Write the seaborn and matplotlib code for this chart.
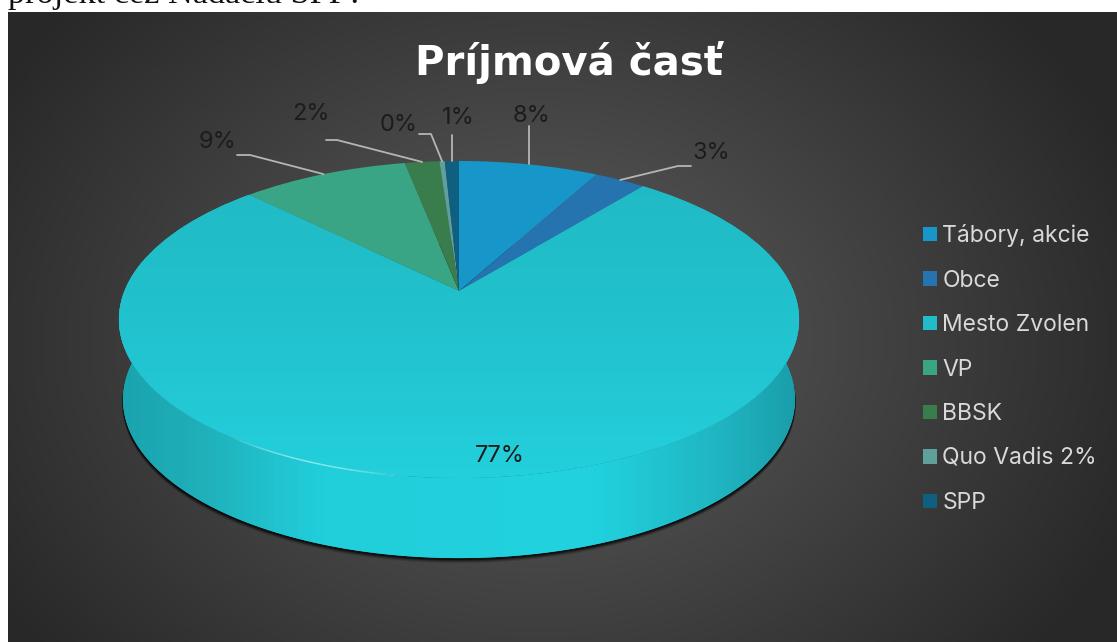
import numpy as np
import matplotlib
matplotlib.use("Agg")
import matplotlib.pyplot as plt
from matplotlib.colors import LinearSegmentedColormap
from matplotlib.patches import Polygon, Rectangle
from matplotlib.transforms import Transform
import seaborn as sns

# ---- data ----
categories = ["Tábory, akcie", "Obce", "Mesto Zvolen", "VP", "BBSK", "Quo Vadis 2%", "SPP"]
values = [7.9, 2.9, 76.7, 9.45, 1.95, 0.3, 0.8]
colors = ["#1797c9", "#2574b0", "#21bcc8", "#3aa585", "#3a7d4c", "#5f9f9c", "#0f5f80"]
title = "Príjmová časť"
page_text = "projekt cez Nadáciu SPP?"

# ---- layout (pixels) ----
W, H = 1117, 642
CX, CY, A, B, K = 459.0, 291.0, 334.5, 153.4, 0.18
DEPTH = 80
label_pos = [(531, 116), (711, 153), (500, 456), (217, 142), (311, 114), (399, 125), (458, 118)]
elbows = [None, [(678, 166), (691, 166)], None, [(250, 155), (237, 155)],
          [(337, 140), (326, 140)], [(431, 134), (419, 134)], None]
verticals = [126, None, None, None, None, None, 135]

sns.set_theme(style="dark")
plt.rcParams["font.family"] = ["Inter", "DejaVu Sans"]
palette = sns.color_palette(colors)


class Persp(Transform):
    input_dims = output_dims = 2
    is_separable = False
    has_inverse = False

    def __init__(self, dz=0.0, scale=1.0):
        super().__init__()
        self.dz, self.scale = dz, scale

    def transform_non_affine(self, xy):
        xy = np.asarray(xy, float)
        x, y = xy[:, 0], xy[:, 1]
        w = 1 + K * y
        return np.column_stack((CX + self.scale * A * x / w, CY + self.dz - B * y / w))


top = Persp()
base = Persp(DEPTH, 0.988)


def ring(tr, t):
    return tr.transform_non_affine(np.column_stack((np.cos(t), np.sin(t))))


fig = plt.figure(figsize=(W / 100, H / 100), dpi=100, facecolor="white")
ax = fig.add_axes([0, 0, 1, 1])

wedges, _ = ax.pie(values, colors=palette, startangle=90, counterclock=False,
                   wedgeprops=dict(linewidth=0))
ax.set_aspect("auto")
ax.set_xlim(0, W)
ax.set_ylim(H, 0)
ax.axis("off")

# page text peeking above the panel
ax.text(8, 2.5, page_text, family="Liberation Serif", fontsize=24.7, color="#111111",
        va="baseline", ha="left", zorder=0, clip_on=False)

# background panel with radial gradient
panel = Rectangle((8, 12), W - 8, H - 12, transform=ax.transData, fc="none", ec="none")
ax.add_patch(panel)
yy, xx = np.mgrid[0:H:2, 0:W:2]
rad = np.clip(np.hypot((xx - 540) / 640, (yy - 340) / 500), 0, 1)
bg_cmap = LinearSegmentedColormap.from_list("bg", ["#585858", "#4c4c4c", "#3a3a3a", "#282828"])
bg = ax.imshow(rad, extent=(0, W, H, 0), cmap=bg_cmap, vmin=0, vmax=1, aspect="auto", zorder=1)
bg.set_clip_path(panel)
ax.set_xlim(0, W)
ax.set_ylim(H, 0)

# soft shadow under the disc
t_all = np.linspace(0, 2 * np.pi, 361)
for off, al in zip((5, 4, 3, 2), (0.12, 0.2, 0.3, 0.5)):
    pts = Persp(DEPTH + off, 0.99).transform_non_affine(np.column_stack((np.cos(t_all), np.sin(t_all))))
    ax.add_patch(Polygon(pts, closed=True, fc="black", ec="none", alpha=al, zorder=2))

# side wall with horizontal gradient
t_front = np.linspace(np.pi - 0.2, 2 * np.pi + 0.2, 300)
wall_pts = np.vstack((ring(top, t_front), ring(base, t_front)[::-1]))
wall_poly = Polygon(wall_pts, closed=True, fc="#20c8d4", ec="none", zorder=3)
ax.add_patch(wall_poly)
gx = np.linspace(0, 1, 400)[None, :]
wall_cmap = LinearSegmentedColormap.from_list(
    "wall", [(0, "#1aa3af"), (0.12, "#1fb0ba"), (0.3, "#21cfdb"), (0.7, "#21d2de"),
             (0.88, "#1fb6c2"), (1, "#1a9daa")])
wall_im = ax.imshow(gx, extent=(118, 800, H, 0), cmap=wall_cmap, aspect="auto", zorder=3.1)
wall_im.set_clip_path(wall_poly)
ax.set_xlim(0, W)
ax.set_ylim(H, 0)

# top face
for w in wedges:
    w.set_transform(top + ax.transData)
    w.set_zorder(4)

# brighter front on the big slice
gy = np.linspace(0, 1, 200)[:, None]
face_cmap = LinearSegmentedColormap.from_list("face", ["#21b9c5", "#20bfca", "#22c6d2", "#23d0dc"])
face_im = ax.imshow(gy, extent=(100, 820, 480, 160), cmap=face_cmap, aspect="auto", zorder=4.1, origin="upper")
face_im.set_clip_path(wedges[2])
ax.set_xlim(0, W)
ax.set_ylim(H, 0)

# highlight along the rim, fading towards the left
t_hi = np.linspace(1.3 * np.pi, 1.46 * np.pi, 30)
rim = ring(top, t_hi)
for j in range(len(rim) - 1):
    ax.plot(rim[j:j + 2, 0], rim[j:j + 2, 1], color="#c4f8fb", lw=1.0,
            alpha=0.7 * np.sin(np.pi * (j + 0.5) / (len(rim) - 1)), zorder=4.2,
            solid_capstyle="butt")

# labels and leader lines
total = sum(values)
cum = np.cumsum(values)
mids = (cum - np.array(values) / 2) / total * 2 * np.pi
for i, (val, (lx, ly)) in enumerate(zip(values, label_pos)):
    pct = f"{val / total * 100:.0f}%"
    ax.text(lx, ly, pct, fontsize=17, color="#1c1c1c", ha="center", va="center", zorder=6)
    anchor = top.transform_non_affine(np.array([[np.sin(mids[i]), np.cos(mids[i])]]))[0]
    if elbows[i] is not None:
        xs = [anchor[0]] + [p[0] for p in elbows[i]]
        ys = [anchor[1]] + [p[1] for p in elbows[i]]
    elif verticals[i] is not None:
        xs, ys = [anchor[0], anchor[0]], [anchor[1], verticals[i]]
    else:
        continue
    ax.plot(xs, ys, color="#b5b5b5", lw=1.3, zorder=5)

# title
ax.text(569, 75, title, fontsize=29, fontweight="bold", color="white", family="DejaVu Sans",
        ha="center", va="baseline", zorder=6)

# legend
leg = ax.legend(wedges, categories, loc="center left", bbox_to_anchor=(923 / W, 1 - 369 / H),
                bbox_transform=fig.transFigure, frameon=False, fontsize=16.5,
                labelcolor="#d9d9d9", handlelength=0.6, handleheight=0.6, handletextpad=0.25,
                labelspacing=0.98, borderpad=0, borderaxespad=0)
leg.set_zorder(7)

fig.savefig("out.png", dpi=100, facecolor="white")
